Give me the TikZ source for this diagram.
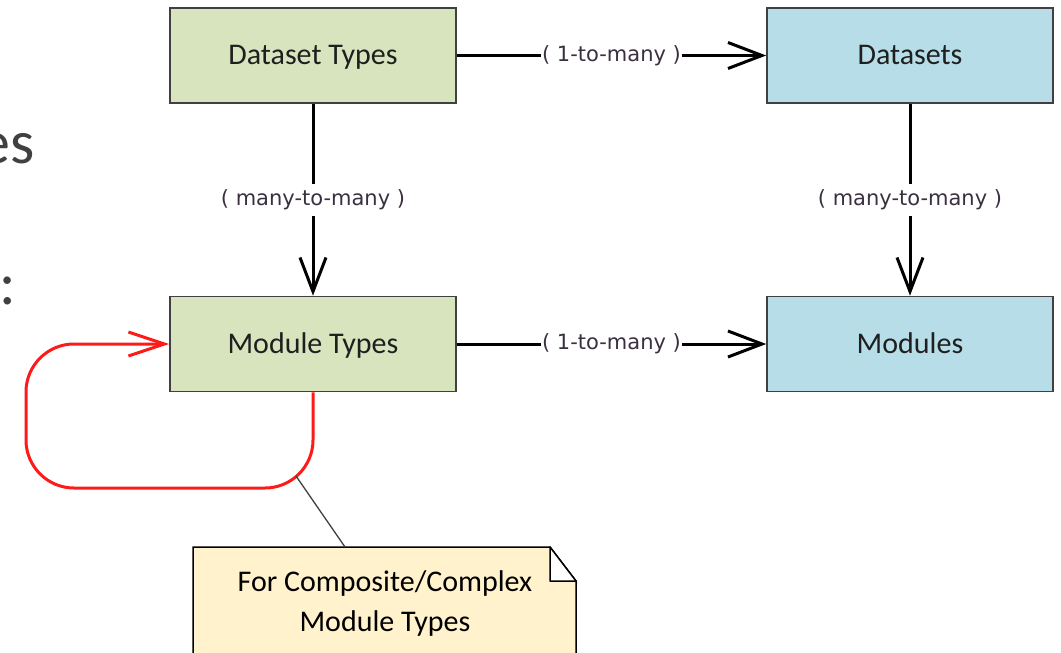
\documentclass[tikz,border=0pt]{standalone}
\usepackage{fontspec}
\setmainfont{Carlito}
\newfontfamily\lblfont{DejaVu Sans}
\usetikzlibrary{arrows.meta}
\definecolor{greenfill}{HTML}{D7E4BD}
\definecolor{bluefill}{HTML}{B7DEE8}
\definecolor{notefill}{HTML}{FFF2CC}
\definecolor{boxline}{HTML}{404040}
\definecolor{boxtext}{HTML}{1F1F1F}
\definecolor{lbltext}{HTML}{3A3040}
\definecolor{slidetext}{HTML}{404040}
\definecolor{loopred}{HTML}{FF1A1A}
\tikzset{
  entity/.style={draw=boxline, line width=1.6pt, minimum width=286pt, minimum height=95pt,
    inner sep=0pt, text height=24pt, text depth=6pt, text=boxtext, font=\fontsize{30}{36}\selectfont},
  greenbox/.style={entity, fill=greenfill},
  bluebox/.style={entity, fill=bluefill},
  rel/.style={draw=black, line width=3pt, -{Straight Barb[length=34pt,width=26pt,line width=3pt]}},
  rellabel/.style={fill=white, inner xsep=1pt, inner ysep=6pt, text=lbltext, font=\lblfont\fontsize{21}{24}\selectfont},
  selfloop/.style={draw=loopred, line width=3pt, rounded corners=48pt, -{Straight Barb[length=36pt,width=24pt,line width=3pt]}},
  notelink/.style={draw=boxline, line width=1.3pt},
  notetext/.style={align=center, text=black, font=\fontsize{30}{40}\selectfont},
  slide/.style={text=slidetext, inner sep=0pt, font=\fontsize{62}{70}\selectfont}
}
\begin{document}
\begin{tikzpicture}[x=1pt,y=-1pt]
\useasboundingbox (0,0) rectangle (1061,653);
\clip (0,0) rectangle (1061,653);
% background slide fragments
\node[slide, anchor=base east] (es) at (35,163) {es};
\node[slide, anchor=base west] (colon) at (-1,304) {:};
% entities
\node[greenbox] (dt) at (313,55.5) {Dataset Types};
\node[bluebox] (ds) at (910,55.5) {Datasets};
\node[greenbox] (mt) at (313,344) {Module Types};
\node[bluebox] (mo) at (910,344) {Modules};
% relations
\draw[rel] (dt) -- node[rellabel] {( 1-to-many )} (ds);
\draw[rel] (mt) -- node[rellabel] {( 1-to-many )} (mo);
\draw[rel] (dt) -- node[rellabel, pos=0.5] {( many-to-many )} (mt);
\draw[rel] (ds) -- node[rellabel, pos=0.5] {( many-to-many )} (mo);
% self loop
\coordinate (loopA) at (313,488);
\coordinate (loopB) at (26,488);
\coordinate (loopC) at (26,344);
\coordinate (linkstart) at (296,476);
\draw[selfloop] (mt.south) -- (loopA) -- (loopB) -- (loopC) -- (mt.west);
% note
\path[fill=notefill, draw=black, line width=1.5pt]
  (193,547) -- (550,547) -- (576,581) -- (576,670) -- (193,670) -- cycle;
\path[fill=white, draw=black, line width=1.5pt, line join=round]
  (550,547) -- (550,581) -- (576,581) -- cycle;
\coordinate (notetop) at (345,547);
\node[notetext] (note) at (385,603) {For Composite/Complex\\Module Types};
\draw[notelink] (linkstart) -- (notetop);
\end{tikzpicture}
\end{document}
